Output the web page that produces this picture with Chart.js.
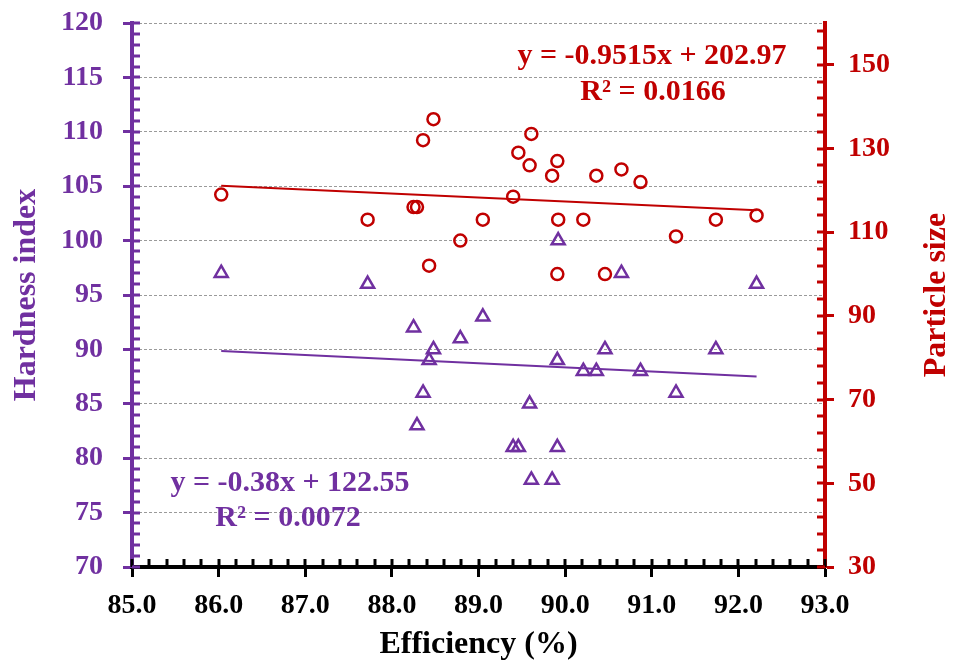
<!DOCTYPE html>
<html>
<head>
<meta charset="utf-8">
<script src="https://cdn.jsdelivr.net/npm/chart.js@4"></script>
<style>
  html, body { margin: 0; padding: 0; background: #fff; }
  #wrap { width: 953px; height: 669px; }
</style>
</head>
<body>
<div id="wrap"><canvas id="chart" width="953" height="669"></canvas></div>
<script>
// values (one sample per index)
const efficiency = [86.03, 87.72, 88.25, 88.29, 88.36, 88.43, 88.48, 88.79, 89.05, 89.40, 89.46, 89.59, 89.61,
  89.85, 89.91, 89.91, 89.92, 90.21, 90.36, 90.46, 90.65, 90.87, 91.28, 91.74, 92.21];
const hardness = [97, 96, 92, 83, 86, 89, 90, 91, 93, 81, 81, 85, 78,
  78, 81, 89, 100, 88, 88, 90, 97, 88, 86, 90, 96];
const particleSize = [119, 113, 116, 116, 132, 102, 137, 108, 113, 118.5, 129, 126, 133.5,
  123.5, 127, 100, 113, 113, 123.5, 100, 125, 122, 109, 113, 114];

const efficiencyTicks = [85, 86, 87, 88, 89, 90, 91, 92, 93];
const hardnessTicks = [70, 75, 80, 85, 90, 95, 100, 105, 110, 115, 120];
const particleTicks = [30, 50, 70, 90, 110, 130, 150];

// trendlines as printed on the chart
const hardnessFit = { slope: -0.38, intercept: 122.55, eq: 'y = -0.38x + 122.55', r2: 'R² = 0.0072' };
const particleFit = { slope: -0.9515, intercept: 202.97, eq: 'y = -0.9515x + 202.97', r2: 'R² = 0.0166' };

const PURPLE = '#7030A0';
const RED = '#C00000';
const FONT = "'Times New Roman', 'Liberation Serif', serif";

function fitLine(fit) {
  const x0 = Math.min(...efficiency), x1 = Math.max(...efficiency);
  return [x0, x1].map(x => ({ x, y: fit.slope * x + fit.intercept }));
}

// inward tick marks (minor + major) on all three axes
const innerTicks = {
  id: 'innerTicks',
  afterDraw(chart) {
    const { ctx, chartArea, scales } = chart;
    const len = 8;
    ctx.save();
    ctx.lineWidth = 3;
    ctx.strokeStyle = '#000';
    for (let v = 85; v <= 93.0001; v += 0.2) {
      const px = Math.round(scales.x.getPixelForValue(v));
      ctx.beginPath(); ctx.moveTo(px, chartArea.bottom); ctx.lineTo(px, chartArea.bottom - len); ctx.stroke();
    }
    ctx.strokeStyle = PURPLE;
    for (let v = 70; v <= 120; v += 1) {
      const py = Math.round(scales.yH.getPixelForValue(v));
      ctx.beginPath(); ctx.moveTo(chartArea.left, py); ctx.lineTo(chartArea.left + len, py); ctx.stroke();
    }
    ctx.strokeStyle = RED;
    for (let v = 30; v <= 160; v += 4) {
      const py = Math.round(scales.yP.getPixelForValue(v));
      ctx.beginPath(); ctx.moveTo(chartArea.right, py); ctx.lineTo(chartArea.right - len, py); ctx.stroke();
    }
    ctx.restore();
  }
};

// right axis title (reads bottom to top) and the trendline equations
const labels = {
  id: 'labels',
  afterDraw(chart) {
    const { ctx, chartArea } = chart;
    ctx.save();
    ctx.font = `bold 32px ${FONT}`;
    ctx.fillStyle = RED;
    ctx.textAlign = 'center';
    ctx.textBaseline = 'middle';
    ctx.translate(937, (chartArea.top + chartArea.bottom) / 2);
    ctx.rotate(-Math.PI / 2);
    ctx.fillText('Particle size', 0, 0);
    ctx.restore();

    ctx.save();
    ctx.font = `bold 30px ${FONT}`;
    ctx.textAlign = 'center';
    ctx.textBaseline = 'middle';
    ctx.fillStyle = RED;
    ctx.fillText(particleFit.eq, 652, 56);
    ctx.fillText(particleFit.r2, 653, 92);
    ctx.fillStyle = PURPLE;
    ctx.fillText(hardnessFit.eq, 290, 483);
    ctx.fillText(hardnessFit.r2, 288, 518);
    ctx.restore();
  }
};

const ctx = document.getElementById('chart').getContext('2d');
new Chart(ctx, {
  type: 'scatter',
  data: {
    datasets: [
      {
        label: 'Hardness trend',
        data: fitLine(hardnessFit),
        yAxisID: 'yH',
        showLine: true,
        borderColor: PURPLE,
        borderWidth: 2,
        pointRadius: 0,
      },
      {
        label: 'Particle trend',
        data: fitLine(particleFit),
        yAxisID: 'yP',
        showLine: true,
        borderColor: RED,
        borderWidth: 2,
        pointRadius: 0,
      },
      {
        label: 'Hardness index',
        data: efficiency.map((x, i) => ({ x, y: hardness[i] })),
        yAxisID: 'yH',
        pointStyle: 'triangle',
        pointRadius: 7.5,
        borderColor: PURPLE,
        backgroundColor: 'rgba(0,0,0,0)',
        borderWidth: 2.5,
      },
      {
        label: 'Particle size',
        data: efficiency.map((x, i) => ({ x, y: particleSize[i] })),
        yAxisID: 'yP',
        pointStyle: 'circle',
        pointRadius: 6,
        borderColor: RED,
        backgroundColor: 'rgba(0,0,0,0)',
        borderWidth: 2.5,
      }
    ]
  },
  options: {
    responsive: false,
    animation: false,
    layout: { padding: { top: 23, left: 0, right: 0, bottom: 0 }, autoPadding: false },
    plugins: { legend: { display: false }, tooltip: { enabled: false } },
    scales: {
      x: {
        type: 'linear',
        min: 85, max: 93,
        afterBuildTicks: s => { s.ticks = efficiencyTicks.map(v => ({ value: v })); },
        afterFit: s => { s.height = 102; s.paddingLeft = 0; s.paddingRight = 0; },
        grid: { drawOnChartArea: false, tickLength: 10, tickWidth: 3, tickColor: '#000' },
        border: { color: '#000', width: 4 },
        ticks: { color: '#000', padding: 12, maxRotation: 0, font: { family: FONT, size: 28, weight: 'bold' },
          callback: v => Number(v).toFixed(1) },
        title: { display: true, text: 'Efficiency (%)', color: '#000', padding: { top: 0, bottom: 5 },
          font: { family: FONT, size: 32, weight: 'bold' } }
      },
      yH: {
        type: 'linear',
        position: 'left',
        min: 70, max: 120,
        afterBuildTicks: s => { s.ticks = hardnessTicks.map(v => ({ value: v })); },
        afterFit: s => { s.width = 132; s.paddingTop = 0; s.paddingBottom = 0; },
        grid: {
          color: c => (c.tick && c.tick.value === 70) ? 'rgba(0,0,0,0)' : '#9a9a9a',
          lineWidth: 1, tickLength: 9, tickWidth: 3, tickColor: PURPLE
        },
        border: { color: PURPLE, width: 4, dash: [3, 2] },
        ticks: { color: PURPLE, padding: 20, font: { family: FONT, size: 28, weight: 'bold' } },
        title: { display: true, text: 'Hardness index', color: PURPLE, padding: { top: 8, bottom: 0 },
          font: { family: FONT, size: 32, weight: 'bold' } }
      },
      yP: {
        type: 'linear',
        position: 'right',
        min: 30, max: 160,
        afterBuildTicks: s => { s.ticks = particleTicks.map(v => ({ value: v })); },
        afterFit: s => { s.width = 128; s.paddingTop = 0; s.paddingBottom = 0; },
        grid: { drawOnChartArea: false, tickLength: 9, tickWidth: 3, tickColor: RED },
        border: { color: RED, width: 4 },
        ticks: { color: RED, padding: 14, font: { family: FONT, size: 28, weight: 'bold' } }
      }
    }
  },
  plugins: [innerTicks, labels]
});
</script>
</body>
</html>
